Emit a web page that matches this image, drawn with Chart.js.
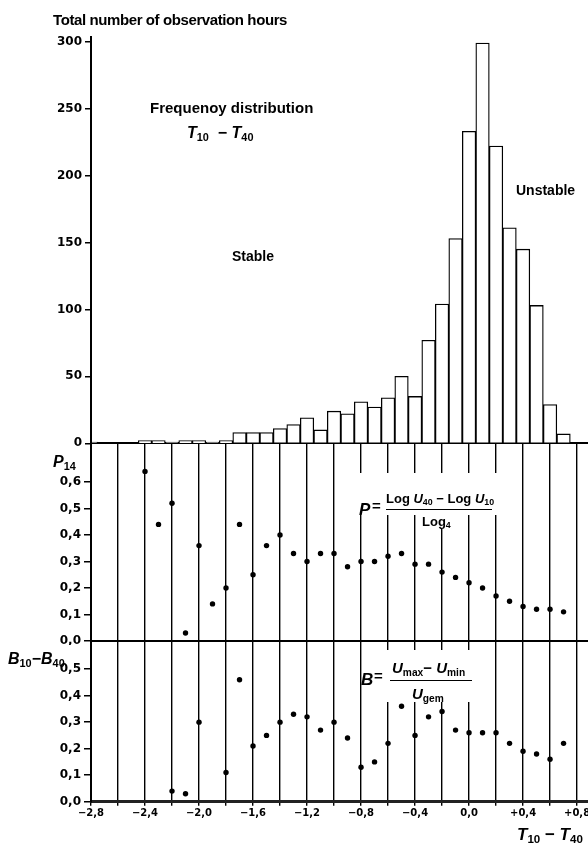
<!DOCTYPE html>
<html>
<head>
<meta charset="utf-8">
<script src="https://cdn.jsdelivr.net/npm/chart.js@4.4.1/dist/chart.umd.min.js"></script>
<style>
  body { margin: 0; background: #fff; }
  #wrap { position: relative; width: 588px; height: 845px; overflow: hidden; background: #fff; }
  canvas { position: absolute; left: 0; }
  .t { position: absolute; white-space: nowrap; line-height: 1; color: #000;
       font-family: 'Liberation Sans', Arial, sans-serif; font-weight: bold; }
  .t i { font-style: italic; }
  .t sub { font-size: 68%; vertical-align: -0.28em; line-height: 0; }
  .bar { position: absolute; height: 1.6px; background: #000; }
  .white { position: absolute; background: #fff; }
</style>
</head>
<body>
<div id="wrap">
  <canvas id="hist" width="588" height="450" style="top:0"></canvas>
  <canvas id="pChart" width="588" height="215" style="top:430px"></canvas>
  <canvas id="bChart" width="588" height="209" style="top:636px"></canvas>

  <div class="t" style="left:53px; top:11.6px; font-size:15px; letter-spacing:-0.4px">Total number of observation hours</div>
  <div class="t" style="left:150px; top:100px; font-size:15px">Frequenoy distribution</div>
  <div class="t" style="left:187px; top:124.5px; font-size:16px"><i>T</i><sub>10</sub>&nbsp; − <i>T</i><sub>40</sub></div>
  <div class="t" style="left:232px; top:249px; font-size:14px">Stable</div>
  <div class="t" style="left:516px; top:183px; font-size:14px">Unstable</div>

  <div class="t" style="left:53px; top:454px; font-size:16px"><i>P</i><sub>14</sub></div>

  <!-- formule P -->
  <div class="white" style="left:357px; top:473px; width:143px; height:42px"></div>
  <div class="white" style="left:418px; top:512px; width:42px; height:17px"></div>
  <div class="t" style="left:359px; top:500.6px; font-size:17px"><i>P</i></div>
  <div class="t" style="left:372px; top:498px; font-size:15px">=</div>
  <div class="t" style="left:386px; top:492px; font-size:13px">Log <i>U</i><sub>40</sub> − Log <i>U</i><sub>10</sub></div>
  <div class="bar" style="left:386px; top:508.5px; width:106px"></div>
  <div class="t" style="left:422px; top:515px; font-size:13px">Log<sub>4</sub></div>

  <div class="t" style="left:8px; top:650.5px; font-size:16px"><i>B</i><sub>10</sub>−<i>B</i><sub>40</sub></div>

  <!-- formule B -->
  <div class="white" style="left:386px; top:650px; width:96px; height:52px"></div>
  <div class="t" style="left:361px; top:670.6px; font-size:17px"><i>B</i></div>
  <div class="t" style="left:374px; top:668px; font-size:15px">=</div>
  <div class="t" style="left:392px; top:660px; font-size:15px"><i>U</i><sub>max</sub>− <i>U</i><sub>min</sub></div>
  <div class="bar" style="left:390px; top:679.5px; width:82px"></div>
  <div class="t" style="left:412px; top:686px; font-size:15px"><i>U</i><sub>gem</sub></div>

  <div class="t" style="left:517px; top:825.6px; font-size:17px"><i>T</i><sub>10</sub> − <i>T</i><sub>40</sub></div>
</div>

<script>
// T10 - T40, middelpunten van de klassen (stap 0,1)
const binT = [-2.8, -2.7, -2.6, -2.5, -2.4, -2.3, -2.2, -2.1, -2.0, -1.9, -1.8, -1.7,
  -1.6, -1.5, -1.4, -1.3, -1.2, -1.1, -1.0, -0.9, -0.8, -0.7, -0.6, -0.5,
  -0.4, -0.3, -0.2, -0.1, 0.0, 0.1, 0.2, 0.3, 0.4, 0.5, 0.6, 0.7];
// aantal waarnemingsuren per klasse
const hours = [1, 0, 0, 0, 2, 2, 1, 2, 2, 1, 2, 8,
  8, 8, 11, 14, 19, 10, 24, 22, 31, 27, 34, 50,
  35, 77, 104, 153, 233, 299, 222, 161, 145, 103, 29, 7];

// klassen waarvoor P en B zijn uitgezet
const pointT = [-2.4, -2.3, -2.2, -2.1, -2.0, -1.9, -1.8, -1.7, -1.6, -1.5, -1.4, -1.3,
  -1.2, -1.1, -1.0, -0.9, -0.8, -0.7, -0.6, -0.5, -0.4, -0.3, -0.2, -0.1,
  0.0, 0.1, 0.2, 0.3, 0.4, 0.5, 0.6, 0.7];
const pValues = [0.64, 0.44, 0.52, 0.03, 0.36, 0.14, 0.20, 0.44, 0.25, 0.36, 0.40, 0.33,
  0.30, 0.33, 0.33, 0.28, 0.30, 0.30, 0.32, 0.33, 0.29, 0.29, 0.26, 0.24,
  0.22, 0.20, 0.17, 0.15, 0.13, 0.12, 0.12, 0.11];
const bValues = [null, null, 0.04, 0.03, 0.30, null, 0.11, 0.46, 0.21, 0.25, 0.30, 0.33,
  0.32, 0.27, 0.30, 0.24, 0.13, 0.15, 0.22, 0.36, 0.25, 0.32, 0.34, 0.27,
  0.26, 0.26, 0.26, 0.22, 0.19, 0.18, 0.16, 0.22];

// verticale lijnen (elke 0,2) en de labels (elke 0,4)
const gridT = [-2.8, -2.6, -2.4, -2.2, -2.0, -1.8, -1.6, -1.4, -1.2, -1.0,
  -0.8, -0.6, -0.4, -0.2, 0.0, 0.2, 0.4, 0.6, 0.8];
const xTickLabels = ['−2,8', '−2,4', '−2,0', '−1,6', '−1,2', '−0,8', '−0,4', '0,0', '+0,4', '+0,8'];

Chart.defaults.font.family = 'DejaVu Sans';
Chart.defaults.color = '#000';

const tickFont = { family: 'DejaVu Sans', weight: 'bold', size: 12 };
const comma = v => v.toFixed(1).replace('.', ',');
const noPlugins = { legend: { display: false }, tooltip: { enabled: false } };

// vaste breedte van de y-as zodat de drie panelen precies onder elkaar staan
const yFit = s => { s.width = 91; s.paddingTop = 0; s.paddingBottom = 0; };
const xFit = h => s => { s.height = h; s.paddingLeft = 0; s.paddingRight = 0; };
const xGridTicks = s => { s.ticks = gridT.map(value => ({ value })); };

// Histogram
new Chart(document.getElementById('hist'), {
  type: 'bar',
  data: {
    datasets: [{
      data: binT.map((t, i) => ({ x: t, y: hours[i] })),
      backgroundColor: '#fff',
      borderColor: '#000',
      borderWidth: 1.3,
      barPercentage: 1,
      categoryPercentage: 1
    }]
  },
  options: {
    responsive: false,
    animation: false,
    layout: { autoPadding: false, padding: { top: 37, left: 0, right: 0, bottom: 0 } },
    plugins: noPlugins,
    scales: {
      x: {
        type: 'linear', min: -2.8, max: 0.881, offset: false,
        ticks: { display: false },
        afterBuildTicks: xGridTicks,
        grid: { display: false, offset: false },
        border: { color: '#000', width: 2 },
        afterFit: xFit(6.7)
      },
      y: {
        min: 0, max: 303.5,
        ticks: { stepSize: 50, includeBounds: false, padding: 3, font: tickFont },
        grid: { drawOnChartArea: false, tickLength: 6, color: '#000', lineWidth: 1.5 },
        border: { color: '#000', width: 2 },
        afterFit: yFit
      }
    }
  }
});

// P-paneel
new Chart(document.getElementById('pChart'), {
  type: 'scatter',
  data: {
    datasets: [{
      data: pointT.map((t, i) => ({ x: t, y: pValues[i] })),
      backgroundColor: '#000',
      borderWidth: 0,
      pointRadius: 2.7
    }]
  },
  options: {
    responsive: false,
    animation: false,
    layout: { autoPadding: false, padding: { top: 13.3, left: 0, right: 0, bottom: 0 } },
    plugins: noPlugins,
    scales: {
      x: {
        type: 'linear', min: -2.8, max: 0.881,
        ticks: { display: false },
        afterBuildTicks: xGridTicks,
        grid: { color: '#000', lineWidth: 1.4, drawTicks: false },
        border: { color: '#000', width: 2 },
        afterFit: xFit(4)
      },
      y: {
        min: 0, max: 0.746,
        ticks: { stepSize: 0.1, includeBounds: false, padding: 3, font: tickFont, callback: comma },
        afterBuildTicks: s => { s.ticks = s.ticks.filter(t => t.value < 0.65); },
        grid: { drawOnChartArea: false, tickLength: 7, color: '#000', lineWidth: 1.5 },
        border: { color: '#000', width: 2 },
        afterFit: yFit
      }
    }
  }
});

// B-paneel
new Chart(document.getElementById('bChart'), {
  type: 'scatter',
  data: {
    datasets: [{
      data: pointT.map((t, i) => ({ x: t, y: bValues[i] })),
      backgroundColor: '#000',
      borderWidth: 0,
      pointRadius: 2.7
    }]
  },
  options: {
    responsive: false,
    animation: false,
    layout: { autoPadding: false, padding: { top: 5, left: 0, right: 0, bottom: 0 } },
    plugins: noPlugins,
    scales: {
      x: {
        type: 'linear', min: -2.8, max: 0.881,
        afterBuildTicks: xGridTicks,
        ticks: {
          autoSkip: false, maxRotation: 0, padding: 2,
          font: { family: 'DejaVu Sans', weight: 'bold', size: 10 },
          callback: (v, i) => (i % 2 === 0 ? xTickLabels[i / 2] : '')
        },
        grid: { color: '#000', lineWidth: 1.4, tickLength: 4 },
        border: { color: '#222', width: 3 },
        afterFit: xFit(43.3)
      },
      y: {
        min: 0, max: 0.606,
        ticks: { stepSize: 0.1, includeBounds: false, padding: 3, font: tickFont, callback: comma },
        afterBuildTicks: s => { s.ticks = s.ticks.filter(t => t.value < 0.55); },
        grid: { drawOnChartArea: false, tickLength: 7, color: '#000', lineWidth: 1.5 },
        border: { color: '#000', width: 2 },
        afterFit: yFit
      }
    }
  }
});
</script>
</body>
</html>
